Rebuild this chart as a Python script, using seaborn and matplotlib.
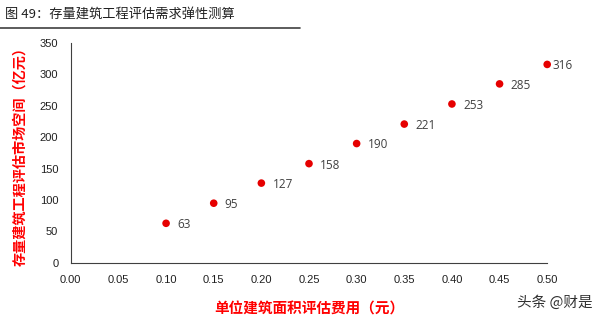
import matplotlib
matplotlib.use("Agg")
import matplotlib.pyplot as plt
import seaborn as sns
import pandas as pd
from matplotlib.lines import Line2D

cost = [0.10, 0.15, 0.20, 0.25, 0.30, 0.35, 0.40, 0.45, 0.50]
space = [63, 95, 127, 158, 190, 221, 253, 285, 316]
labels = ["63", "95", "127", "158", "190", "221", "253", "285", "316"]

sns.set_style("white")
plt.rcParams['font.family'] = ['Noto Sans CJK SC', 'DejaVu Sans']

df = pd.DataFrame({"cost": cost, "space": space})
fig = plt.figure(figsize=(6, 3.19), dpi=100)
ax = fig.add_axes([0.118, 0.176, 0.794, 0.689])
sns.scatterplot(data=df, x="cost", y="space", ax=ax, color="#e60000",
                s=30, edgecolor="none", zorder=3, clip_on=False)
for x, y, t in zip(cost, space, labels):
    off = 3.5 if t == "316" else 8
    ax.annotate(t, (x, y), xytext=(off, -1), textcoords="offset points",
                fontsize=8.5, color="#404040", va="center", ha="left",
                family=['Open Sans', 'DejaVu Sans'], annotation_clip=False)

ax.set_xlim(0, 0.5)
ax.set_ylim(0, 350)
ax.set_xticks([i * 0.05 for i in range(11)])
ax.set_xticklabels([f"{i*0.05:.2f}" for i in range(11)])
ax.set_yticks(range(0, 351, 50))
ax.tick_params(axis="both", labelsize=8, colors="#202020", length=3,
               direction="out", width=0.8, pad=3)
for lab in ax.get_xticklabels() + ax.get_yticklabels():
    lab.set_family(['Liberation Sans', 'DejaVu Sans'])
ax.tick_params(axis="x", pad=6)
ax.tick_params(axis="y", pad=6)
for s in ["top", "right"]:
    ax.spines[s].set_visible(False)
for s in ["left", "bottom"]:
    ax.spines[s].set_color("#404040")
    ax.spines[s].set_linewidth(0.8)

ax.set_xlabel("单位建筑面积评估费用（元）", color="#ff0000", fontsize=10.5,
              fontweight="bold", labelpad=11)
ax.set_ylabel("存量建筑工程评估市场空间（亿元）", color="#ff0000", fontsize=10.2,
              fontweight="bold", labelpad=9)

fig.text(0.008, 0.955, "图 49：存量建筑工程评估需求弹性测算", fontsize=9.5,
         color="#202020", va="center", ha="left")
fig.add_artist(Line2D([0.0, 0.5], [0.912, 0.912], color="#404040", lw=1.2))
fig.text(0.987, 0.05, "头条 @财是", fontsize=10.5, color="#303030",
         va="center", ha="right")

fig.savefig("out.png", dpi=100)
